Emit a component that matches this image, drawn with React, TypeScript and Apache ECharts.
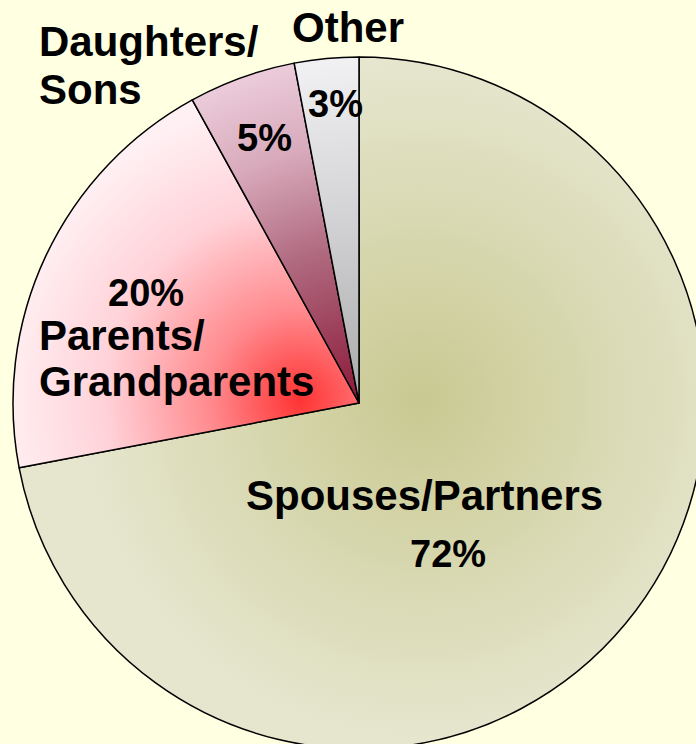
import React, { useEffect, useRef } from "react";
import * as echarts from "echarts";

// ---- data ----
const categories = ["Spouses/Partners", "Parents/Grandparents", "Daughters/Sons", "Other"];
const shares = [72, 20, 5, 3];

// ---- layout (positions kept separate from data) ----
const PIE_CENTER = [359, 403];
const PIE_RADIUS = 346;
const nameLayout = [
  { split: false, x: 246, ys: [495] },
  { split: true, x: 39, ys: [335, 381] },
  { split: true, x: 39, ys: [41, 89] },
  { split: false, x: 292, ys: [27] },
];
const pctLayout = [
  [410, 554],
  [108, 293],
  [237, 138],
  [308, 104],
];
const fills = [
  { x: 420, y: 400, r: 340, stops: [["#C9C992", 0], ["#D6D6AD", 0.45], ["#E6E6CF", 1]] },
  { x: 300, y: 400, r: 300, stops: [["#FF3333", 0], ["#FF8A8E", 0.3], ["#FFD2D8", 0.65], ["#FFF0F3", 1]] },
  { x: 359, y: 403, r: 345, stops: [["#8A1838", 0], ["#B06A80", 0.45], ["#D8AABB", 0.75], ["#EBCBDA", 1]] },
  { x: 359, y: 403, r: 345, stops: [["#A9A9AA", 0], ["#D0D0D2", 0.5], ["#F1F1F3", 1]] },
];

const FONT_NAME = "bold 42px 'Liberation Sans', Arial, sans-serif";
const FONT_PCT = "bold 38px 'Liberation Sans', Arial, sans-serif";

export default function App() {
  const ref = useRef<HTMLDivElement>(null);
  useEffect(() => {
    if (!ref.current) return;
    const chart = echarts.init(ref.current, undefined, { renderer: "svg" });

    const data = categories.map((name, i) => ({
      name,
      value: shares[i],
      itemStyle: {
        color: {
          type: "radial",
          x: fills[i].x,
          y: fills[i].y,
          r: fills[i].r,
          global: true,
          colorStops: fills[i].stops.map(([c, o]) => ({ offset: o as number, color: c as string })),
        },
      },
    }));

    const texts: any[] = [];
    categories.forEach((name, i) => {
      const L = nameLayout[i];
      const lines = L.split ? [name.slice(0, name.indexOf("/") + 1), name.slice(name.indexOf("/") + 1)] : [name];
      lines.forEach((line, j) => {
        texts.push({
          type: "text",
          x: L.x,
          y: L.ys[j],
          z: 100,
          style: {
            text: line,
            font: FONT_NAME,
            fill: "#000",
            textAlign: "left",
            textVerticalAlign: "middle",
            align: "left",
            verticalAlign: "middle",
          },
        });
      });
      texts.push({
        type: "text",
        x: pctLayout[i][0],
        y: pctLayout[i][1],
        z: 100,
        style: {
          text: shares[i] + "%",
          font: FONT_PCT,
          fill: "#000",
          textAlign: "left",
          textVerticalAlign: "middle",
          align: "left",
          verticalAlign: "middle",
        },
      });
    });

    chart.setOption({
      animation: false,
      backgroundColor: "#FFFFE1",
      series: [
        {
          type: "pie",
          center: PIE_CENTER,
          radius: PIE_RADIUS,
          startAngle: 90,
          clockwise: true,
          label: { show: false },
          labelLine: { show: false },
          emphasis: { disabled: true },
          itemStyle: { borderColor: "#000", borderWidth: 1.5 },
          data,
        },
      ],
      graphic: texts,
    });
    return () => chart.dispose();
  }, []);
  return (
    <div
      ref={ref}
      style={{ position: "fixed", left: 0, top: 0, width: 696, height: 744 }}
    />
  );
}
